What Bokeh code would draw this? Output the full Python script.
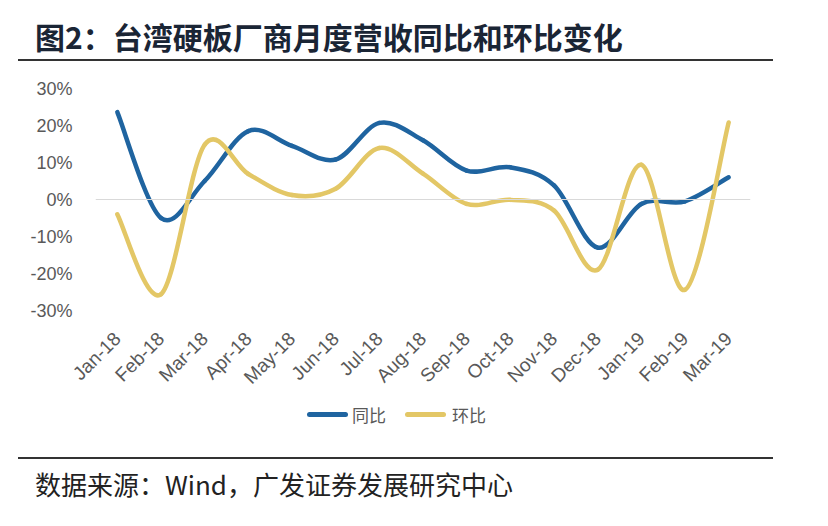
import math
from bokeh.plotting import figure
from bokeh.layouts import column
from bokeh.models import (Range1d, FixedTicker, PrintfTickFormatter, Span, Div)
from bokeh.embed import file_html
from bokeh.resources import INLINE

# ---- data (percent) ----
months = ["Jan-18", "Feb-18", "Mar-18", "Apr-18", "May-18", "Jun-18", "Jul-18",
          "Aug-18", "Sep-18", "Oct-18", "Nov-18", "Dec-18", "Jan-19", "Feb-19", "Mar-19"]
yoy = [23.6, -5.0, 5.0, 18.5, 14.5, 10.8, 20.7, 16.0, 7.8, 8.7, 3.8, -13.0, -1.2, -0.5, 6.0]
mom = [-4.0, -25.6, 14.8, 6.9, 1.2, 2.9, 13.9, 7.0, -1.2, -0.1, -3.0, -19.0, 9.4, -24.4, 20.8]
y_ticks = [-30, -20, -10, 0, 10, 20, 30]
series_names = ["同比", "环比"]

title_text = "图2：台湾硬板厂商月度营收同比和环比变化"
source_text = "数据来源：Wind，广发证券发展研究中心"

BLUE = "#1F64A0"
GOLD = "#E3C766"
GREY = "#595959"
W = 828


def bezier_segments(xs, ys):
    """Catmull-Rom smoothing expressed as cubic Bezier control points."""
    n = len(xs)
    pts = list(zip(xs, ys))
    out = dict(x0=[], y0=[], x1=[], y1=[], cx0=[], cy0=[], cx1=[], cy1=[])
    for i in range(n - 1):
        pm = pts[i - 1] if i > 0 else pts[i]
        p0 = pts[i]
        p1 = pts[i + 1]
        p2 = pts[i + 2] if i + 2 < n else pts[i + 1]
        out["x0"].append(p0[0]); out["y0"].append(p0[1])
        out["x1"].append(p1[0]); out["y1"].append(p1[1])
        out["cx0"].append(p0[0] + (p1[0] - pm[0]) / 6.0)
        out["cy0"].append(p0[1] + (p1[1] - pm[1]) / 6.0)
        out["cx1"].append(p1[0] - (p2[0] - p0[0]) / 6.0)
        out["cy1"].append(p1[1] - (p2[1] - p0[1]) / 6.0)
    return out


# ---- header ----
HEAD_H = 75
head = Div(width=W, height=HEAD_H, margin=(0, 0, 0, 0), text=(
    '<div style="position:relative;width:%dpx;height:%dpx;">'
    '<div style="position:absolute;left:35px;top:17px;white-space:nowrap;'
    "font-family:'Noto Sans CJK SC';font-weight:bold;font-size:30px;line-height:38px;"
    'color:#1a2535;">%s</div>'
    '<div style="position:absolute;left:18px;top:59px;width:755px;height:2px;'
    'background:#333333;"></div></div>') % (W, HEAD_H, title_text))

# ---- main chart ----
p = figure(frame_width=655, frame_height=222, output_backend="svg",
           toolbar_location=None,
           x_range=Range1d(-0.5, 14.5), y_range=Range1d(-30, 30),
           min_border_left=95, min_border_right=78, min_border_top=13,
           min_border_bottom=90)
p.outline_line_color = None
p.xgrid.visible = False
p.ygrid.visible = False
p.background_fill_color = "white"
p.border_fill_color = "white"

p.add_layout(Span(location=0, dimension="width", line_color="#d9d9d9", line_width=1.2))

xs = list(range(len(months)))
p.bezier(line_color=BLUE, line_width=4.5, line_cap="round", **bezier_segments(xs, yoy))
p.bezier(line_color=GOLD, line_width=4.5, line_cap="round", **bezier_segments(xs, mom))

p.xaxis.ticker = FixedTicker(ticks=xs)
p.xaxis.major_label_overrides = {i: m for i, m in enumerate(months)}
p.xaxis.major_label_orientation = math.pi / 4
p.yaxis.ticker = FixedTicker(ticks=y_ticks)
p.yaxis.formatter = PrintfTickFormatter(format="%d%%")
for ax in (p.xaxis, p.yaxis):
    ax.axis_line_color = None
    ax.major_tick_line_color = None
    ax.minor_tick_line_color = None
    ax.major_label_text_font = "Liberation Sans"
    ax.major_label_text_color = GREY
p.xaxis.major_label_text_font_size = "19px"
p.yaxis.major_label_text_font_size = "18px"
p.xaxis.major_label_standoff = 19
p.yaxis.major_label_standoff = 17

# ---- legend row ----
LEG_H = 35
swatch = ('<div style="position:absolute;left:%dpx;top:12px;width:41px;height:5px;'
          'border-radius:3px;background:%s;"></div>')
label = ('<div style="position:absolute;left:%dpx;top:3px;white-space:nowrap;'
         "font-family:'Noto Sans CJK SC';font-size:17px;line-height:24px;"
         'color:%s;">%s</div>')
leg = Div(width=W, height=LEG_H, margin=(0, 0, 0, 0), text=(
    '<div style="position:relative;width:%dpx;height:%dpx;">' % (W, LEG_H)
    + swatch % (307, BLUE) + label % (352, GREY, series_names[0])
    + swatch % (405, GOLD) + label % (452, GREY, series_names[1])
    + '</div>'))

# ---- footer ----
FOOT_H = 91
foot = Div(width=W, height=FOOT_H, margin=(0, 0, 0, 0), text=(
    '<div style="position:relative;width:%dpx;height:%dpx;">'
    '<div style="position:absolute;left:18px;top:22px;width:755px;height:2px;'
    'background:#333333;"></div>'
    '<div style="position:absolute;left:35px;top:34px;white-space:nowrap;'
    "font-family:'Noto Sans CJK SC';font-size:26px;line-height:30px;"
    'color:#222222;">%s</div></div>') % (W, FOOT_H, source_text))

layout = column(head, p, leg, foot, spacing=0)
open("out.html", "w").write(file_html(layout, INLINE))
